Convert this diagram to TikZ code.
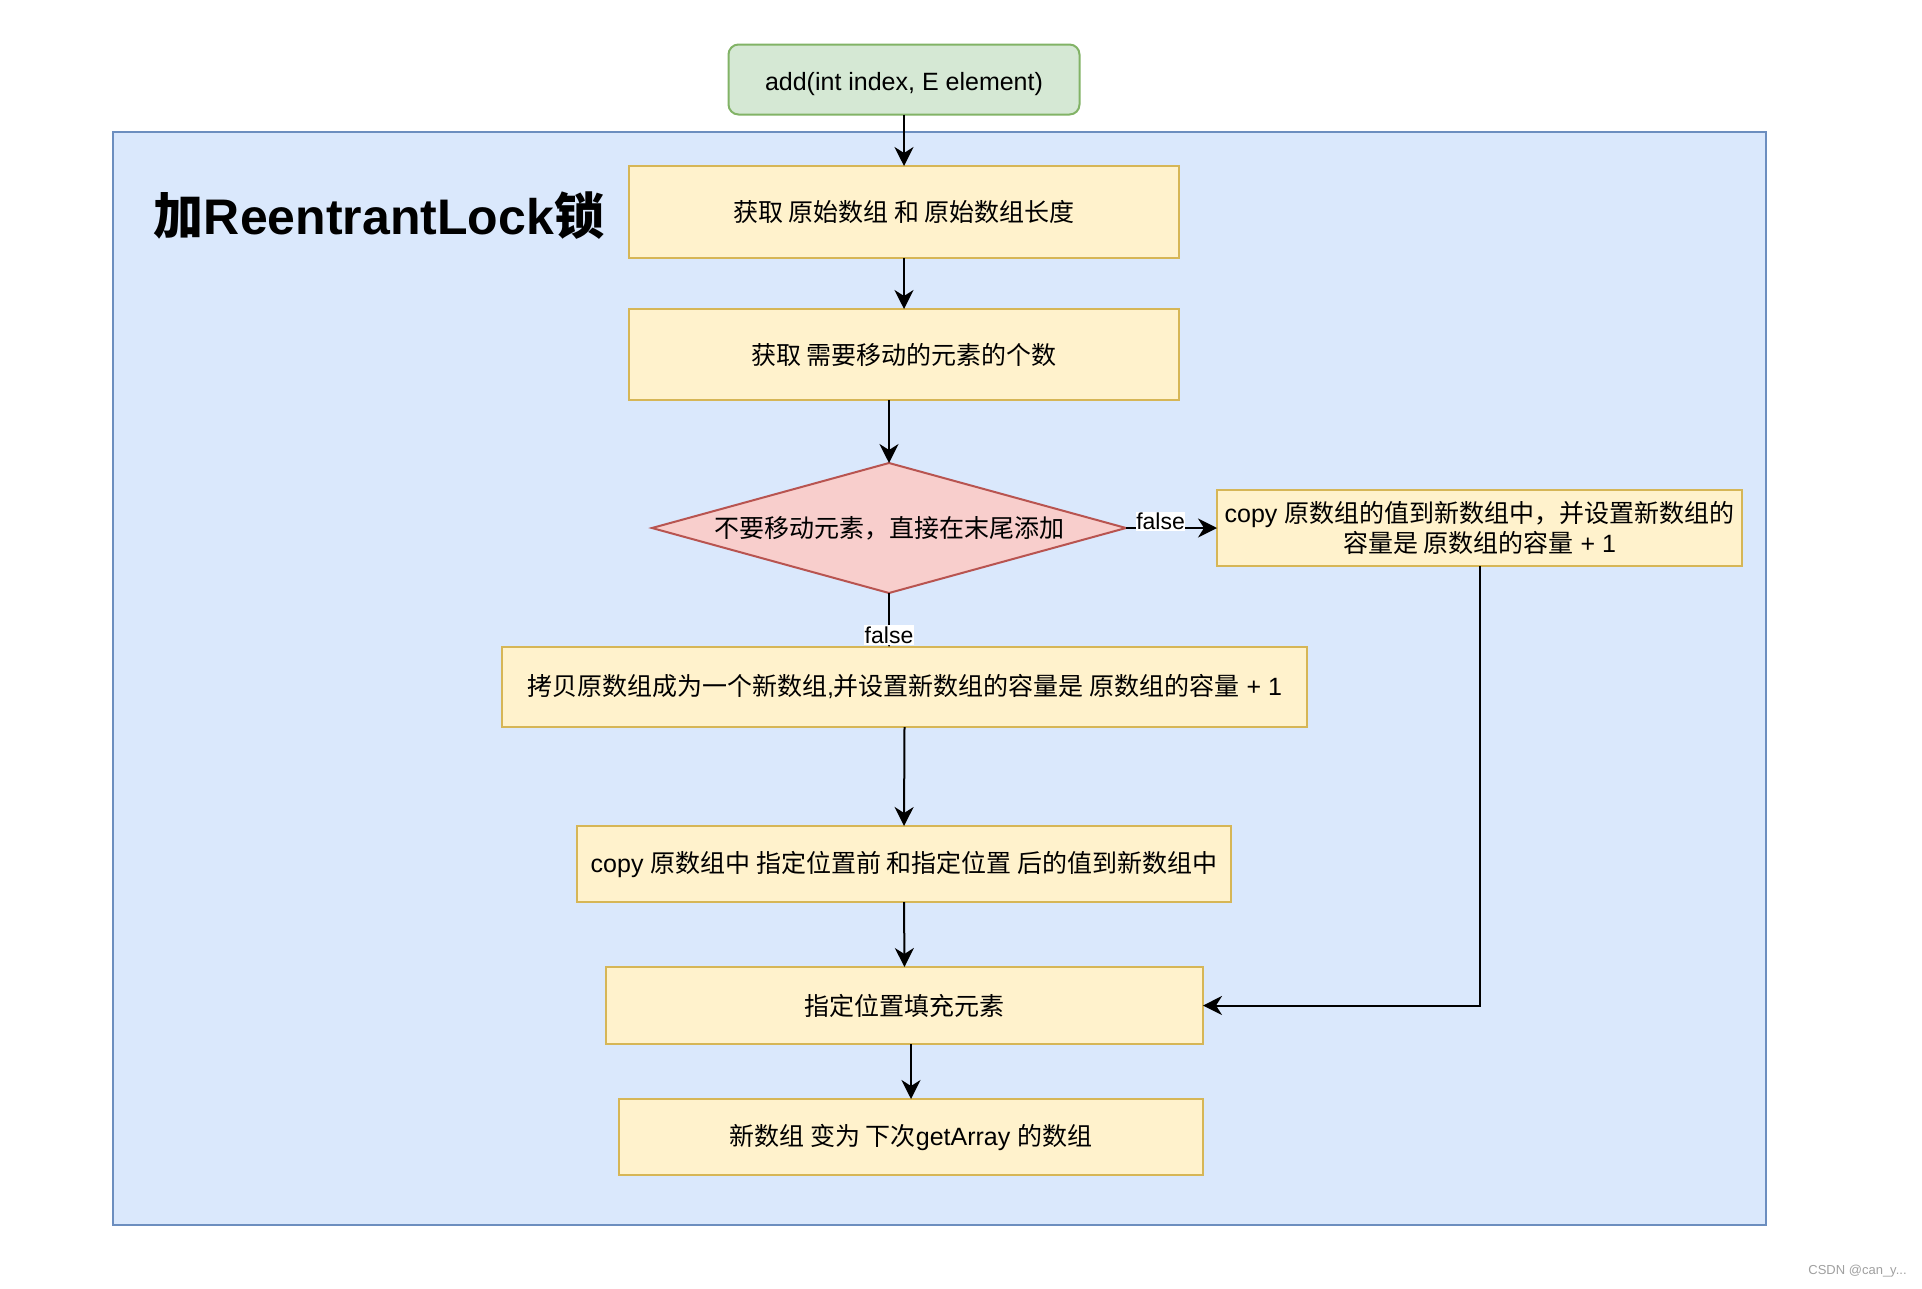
\documentclass[tikz,border=0pt]{standalone}
\usepackage{fontspec}
\setmainfont{Liberation Sans}
\newfontfamily\cjk{Noto Sans CJK SC}
\usetikzlibrary{shapes.geometric,arrows.meta}
\definecolor{yfill}{HTML}{FFF2CC}
\definecolor{ydraw}{HTML}{D6B656}
\definecolor{gfill}{HTML}{D5E8D4}
\definecolor{gdraw}{HTML}{82B366}
\definecolor{bfill}{HTML}{DAE8FC}
\definecolor{bdraw}{HTML}{6C8EBF}
\definecolor{rfill}{HTML}{F8CECC}
\definecolor{rdraw}{HTML}{B85450}
\definecolor{wmgray}{HTML}{A0A0A0}
\newcommand\boxfont{\fontsize{25pt}{30pt}\selectfont}
\newcommand\lblfont{\fontsize{23pt}{27pt}\selectfont}
\newcommand\titlefont{\fontsize{50pt}{60pt}\selectfont\bfseries}
\begin{document}
\begin{tikzpicture}[x=1pt,y=-1pt,
  every node/.style={inner sep=0pt, outer sep=0pt},
  ybox/.style={rectangle, draw=ydraw, fill=yfill, line width=2pt, align=center, font=\boxfont},
  arr/.style={line width=2pt, -{Stealth[length=19pt,width=19pt,inset=6pt]}},
  lbl/.style={fill=white, font=\lblfont, inner xsep=0.5pt, inner ysep=1.5pt},
]
\useasboundingbox (0,0) rectangle (1922,1288);
\fill[white] (0,0) rectangle (1922,1288);

% container
\node[draw=bdraw, fill=bfill, line width=2pt, minimum width=1653pt, minimum height=1093pt] (lock) at (939.5,678.5) {};
\node[font=\titlefont] (title) at (379,216) {{\cjk 加}ReentrantLock{\cjk 锁}};

% nodes
\node[draw=gdraw, fill=gfill, line width=2pt, rounded corners=10pt, minimum width=351pt, minimum height=70pt, font=\boxfont, text height=21pt, text depth=0pt] (start) at (904,79.5) {add(int index, E element)};
\node[ybox, minimum width=550pt, minimum height=92pt] (box1) at (904,212) {{\cjk 获取 原始数组 和 原始数组长度}};
\node[ybox, minimum width=550pt, minimum height=91pt] (box2) at (904,354.5) {{\cjk 获取 需要移动的元素的个数}};
\node[diamond, draw=rdraw, fill=rfill, line width=2pt, aspect=3.646, minimum width=474pt, minimum height=130pt, font=\boxfont] (dia) at (889,528) {{\cjk 不要移动元素，直接在末尾添加}};
\node[ybox, minimum width=525pt, minimum height=76pt] (rbox) at (1479.5,528) {copy {\cjk 原数组的值到新数组中，并设置新数组的}\\{\cjk 容量是 原数组的容量} + 1};
\node[ybox, minimum width=805pt, minimum height=80pt] (box3) at (904.5,687) {{\cjk 拷贝原数组成为一个新数组},{\cjk 并设置新数组的容量是 原数组的容量} + 1};
\node[ybox, minimum width=654pt, minimum height=76pt] (box4) at (904,864) {copy {\cjk 原数组中 指定位置前 和指定位置 后的值到新数组中}};
\node[ybox, minimum width=597pt, minimum height=77pt] (box5) at (904.5,1005.5) {{\cjk 指定位置填充元素}};
\node[ybox, minimum width=584pt, minimum height=76pt] (box6) at (911,1137) {{\cjk 新数组 变为 下次}getArray {\cjk 的数组}};

\node[font=\fontsize{13pt}{15pt}\selectfont, text=wmgray] (wm) at (1857.5,1271) {CSDN @can\_y...};

% connectors
\draw[arr] (start.south) -- (box1.north);
\draw[arr] (box1.south) -- (box2.north);
\draw[arr] (box2.south -| dia.north) -- (dia.north);
\draw[arr] (dia.east) -- node[lbl, pos=0.38, yshift=6.5pt] (lf1) {false} (rbox.west);
\draw[arr] (dia.south) -- node[lbl, pos=0.78] (lf2) {false} (dia.south |- box3.north);
\draw[arr] (box3.south) -- (box4.north);
\draw[arr] (box4.south) -- (box5.north);
\draw[arr] (box5.south -| box6.north) -- (box6.north);
\draw[arr] (rbox.south) |- (box5.east);
\end{tikzpicture}
\end{document}
